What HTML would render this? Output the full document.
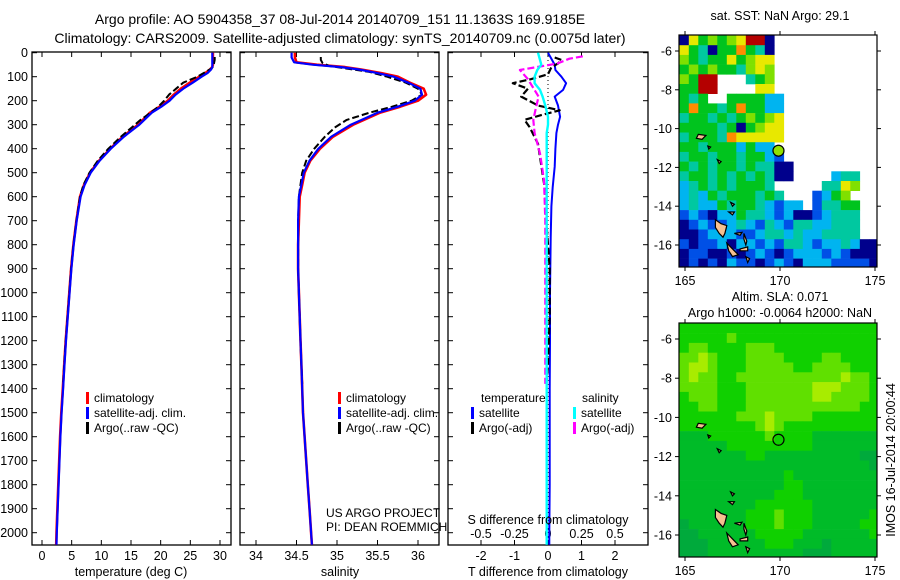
<!DOCTYPE html>
<html><head><meta charset="utf-8"><style>
html,body{margin:0;padding:0;background:#fff;}
svg{display:block;font-family:"Liberation Sans",sans-serif;}
text{fill:#000;}
</style></head><body>
<svg id="fig" width="900" height="580" viewBox="0 0 900 580" xmlns="http://www.w3.org/2000/svg">
<defs>
<clipPath id="c1"><rect x="32" y="52" width="199" height="493"/></clipPath>
<clipPath id="c2"><rect x="240" y="52" width="199" height="493"/></clipPath>
<clipPath id="c3"><rect x="448" y="52" width="200" height="493"/></clipPath>
<clipPath id="cm1"><rect x="679" y="35" width="198" height="232"/></clipPath>
<clipPath id="cm2"><rect x="679" y="323" width="198" height="234"/></clipPath>
</defs>
<text x="340" y="24" font-size="14" text-anchor="middle">Argo profile: AO 5904358_37 08-Jul-2014 20140709_151 11.1363S 169.9185E</text>
<text x="340" y="43" font-size="14" text-anchor="middle">Climatology: CARS2009. Satellite-adjusted climatology: synTS_20140709.nc (0.0075d later)</text>
<g id="p1"></g>
<g id="p2"></g>
<g id="p3"></g>
<g id="m1"></g>
<g id="m2"></g>
<text x="780" y="20" font-size="12.5" text-anchor="middle">sat. SST: NaN Argo: 29.1</text>
<text x="780" y="301" font-size="12.5" text-anchor="middle">Altim. SLA: 0.071</text>
<text x="780" y="317" font-size="12.5" text-anchor="middle">Argo h1000: -0.0064 h2000: NaN</text>
<text transform="translate(895,460) rotate(-90)" font-size="12.5" text-anchor="middle">IMOS 16-Jul-2014 20:00:44</text>
<text x="131" y="576" font-size="12.5" text-anchor="middle">temperature (deg C)</text>
<text x="340" y="576" font-size="12.5" text-anchor="middle">salinity</text>
<text x="548" y="576" font-size="12.5" text-anchor="middle">T difference from climatology</text>
<text x="548" y="524" font-size="12.5" text-anchor="middle">S difference from climatology</text>
<text x="326" y="517" font-size="12">US ARGO PROJECT</text>
<text x="326" y="531" font-size="12">PI: DEAN ROEMMICH</text>
</svg>
<script>
// ---------- profile data ----------
const depthC = [0,20,40,50,60,70,85,100,125,150,175,200,225,250,300,350,400,450,500,550,600,700,800,900,1000,1100,1200,1300,1400,1500,1600,1700,1800,1900,2000,2050];
const tempClim = [28.8,28.8,28.8,28.8,28.7,28.3,27.5,26.5,24.9,23.4,22.2,21.2,19.8,18.2,16.2,13.6,11.5,9.6,8.1,7.1,6.4,5.8,5.3,4.9,4.6,4.3,4.0,3.75,3.5,3.25,3.05,2.9,2.75,2.6,2.45,2.4];
const tempSat = [28.7,28.7,28.7,28.7,28.7,28.5,27.9,26.9,25.4,23.8,22.5,21.5,20.1,18.5,16.4,13.8,11.6,9.7,8.2,7.2,6.5,5.85,5.35,4.95,4.65,4.35,4.05,3.8,3.55,3.3,3.1,2.95,2.8,2.65,2.5,2.45];
const salClim = [34.48,34.48,34.5,34.75,35.1,35.3,35.55,35.75,35.9,36.07,36.1,36.0,35.78,35.53,35.2,34.95,34.79,34.67,34.6,34.57,34.54,34.53,34.52,34.52,34.53,34.54,34.55,34.56,34.57,34.58,34.6,34.62,34.64,34.66,34.68,34.69];
const salSat = [34.44,34.44,34.47,34.7,35.05,35.27,35.5,35.7,35.88,36.03,36.05,35.96,35.75,35.5,35.17,34.93,34.77,34.66,34.59,34.56,34.53,34.52,34.52,34.52,34.53,34.54,34.55,34.56,34.57,34.58,34.6,34.62,34.64,34.66,34.68,34.69];
const depthA = [18,30,42,55,65,80,100,125,150,175,200,225,250,280,310,350,400,450,500,550,600,700,800,900,1000,1100,1200,1300,1380];
const tempArgo = [29.1,29.1,29.0,28.9,28.6,27.6,26.2,23.8,22.6,21.4,20.6,19.6,18.3,16.6,15.2,13.3,11.2,9.4,8.0,7.0,6.4,5.8,5.3,4.9,4.6,4.3,4.0,3.75,3.55];
const salArgo = [34.8,34.8,34.82,34.9,35.1,35.4,35.62,35.85,36.0,36.05,35.92,35.68,35.4,35.12,34.98,34.85,34.72,34.62,34.57,34.55,34.53,34.52,34.52,34.52,34.53,34.54,34.55,34.56,34.57];
// ---------- difference data ----------
const depthD = [0,30,50,72,100,127,155,183,220,267,300,335,400,475,560,640,770,900,1000,1200,1400,1600,1800,2000,2050];
const dTsat = [0.0,0.12,0.2,0.22,0.4,0.54,0.45,0.2,0.3,0.36,0.3,0.25,0.22,0.2,0.14,0.1,0.08,0.07,0.06,0.06,0.05,0.05,0.05,0.04,0.04];
const dSsat = [-0.075,-0.06,-0.05,-0.08,-0.1,-0.1,-0.06,-0.04,-0.02,0.0,0.0,-0.01,-0.01,-0.01,-0.01,-0.01,-0.01,-0.01,-0.01,-0.01,-0.01,-0.01,-0.01,-0.01,-0.01];
const depthTA = [20,30,45,60,90,110,127,150,183,220,240,260,280,310,380,470,560,700,900,1100,1300,1380];
const dTargo = [0.2,0.4,0.3,0.1,0.0,-0.5,-1.05,-0.6,-0.8,-0.3,0.35,-0.2,-0.7,-0.55,-0.3,-0.2,-0.1,-0.05,0.05,0.05,0.0,-0.05];
const depthSA = [15,25,45,72,110,183,230,280,335,420,530,700,900,1100,1300,1380];
const dSargo = [0.26,0.16,0.07,-0.21,-0.15,-0.07,-0.09,-0.11,-0.1,-0.06,-0.03,-0.02,-0.02,-0.02,-0.02,-0.02];
// ---------- ticks ----------
const depthTicks = [0,100,200,300,400,500,600,700,800,900,1000,1100,1200,1300,1400,1500,1600,1700,1800,1900,2000];
const tempTicks = [0,5,10,15,20,25,30];
const salTicks = [34,34.5,35,35.5,36];
const salTickLabels = ['34','34.5','35','35.5','36'];
const dTTicks = [-2,-1,0,1,2];
const dSTicks = [-0.5,-0.25,0,0.25,0.5];
const dSTickLabels = ['-0.5','-0.25','0','0.25','0.5'];
const lonTicks = [165,170,175];
const latTicks = [-6,-8,-10,-12,-14,-16];

const NS='http://www.w3.org/2000/svg';
function mk(tag, attrs, parent){const e=document.createElementNS(NS,tag);for(const k in attrs)e.setAttribute(k,attrs[k]);parent.appendChild(e);return e;}
const yD = d => 52.7 + 0.24*d;
const xT = t => 42 + 5.933*t;
const xS = s => 256 + 81*(s-34);
const xdT = t => 548 + 33.5*t;
const xdS = s => 548 + 134*s;

function line(parent, xs, ys, fx, color, w, dash, clip, name){
  let d='';for(let i=0;i<xs.length;i++){d+=(i?'L':'M')+fx(xs[i]).toFixed(1)+','+yD(ys[i]).toFixed(1);}
  const p=mk('path',{d:d,fill:'none',stroke:color,'stroke-width':w,'clip-path':'url(#'+clip+')','stroke-linejoin':'round'},parent);
  if(dash)p.setAttribute('stroke-dasharray',dash);
  
  
}
function frame(parent,x0,x1,name){
  const r=mk('rect',{x:x0,y:52,width:x1-x0,height:493,fill:'none',stroke:'#000','stroke-width':1.3},parent);
  
  
  depthTicks.forEach(d=>{mk('line',{x1:x0,x2:x0+5,y1:yD(d),y2:yD(d),stroke:'#000'},parent);mk('line',{x1:x1-5,x2:x1,y1:yD(d),y2:yD(d),stroke:'#000'},parent);});
}
function xticks(parent,vals,labels,fx,ty,name){
  vals.forEach((v,i)=>{const x=fx(v);mk('line',{x1:x,x2:x,y1:545,y2:540,stroke:'#000'},parent);mk('line',{x1:x,x2:x,y1:52,y2:57,stroke:'#000'},parent);
    const t=mk('text',{x:x,y:ty,'font-size':12.5,'text-anchor':'middle'},parent);t.textContent=labels[i];
    
    });
}
function legendBar(parent,x,y,color,label,name){
  mk('rect',{x:x,y:y-10,width:3,height:12,fill:color},parent);
  const t=mk('text',{x:x+8,y:y,'font-size':12},parent);t.textContent=label;
  
  
}
// Panel 1
const p1=document.getElementById('p1');
frame(p1,32,231,'temperature-plot-frame');
depthTicks.forEach(d=>{const t=mk('text',{x:28,y:yD(d)+4.5,'font-size':12.5,'text-anchor':'end'},p1);t.textContent=String(d);
  
  });
xticks(p1,tempTicks,tempTicks.map(String),xT,560,'temperature-tick-label');
line(p1,tempClim,depthC,xT,'#ff0000',2.6,null,'c1','temperature-climatology-line');
line(p1,tempArgo,depthA,xT,'#000',2,'7,3','c1','temperature-argo-line');
line(p1,tempSat,depthC,xT,'#0000ff',2.2,null,'c1','temperature-satellite-line');
legendBar(p1,86,402,'#ff0000','climatology','legend-climatology');
legendBar(p1,86,417,'#0000ff','satellite-adj. clim.','legend-satellite-adj');
legendBar(p1,86,432,'#000','Argo(..raw -QC)','legend-argo');
// Panel 2
const p2=document.getElementById('p2');
frame(p2,240,439,'salinity-plot-frame');
xticks(p2,salTicks,salTickLabels,xS,560,'salinity-tick-label');
line(p2,salClim,depthC,xS,'#ff0000',2.6,null,'c2','salinity-climatology-line');
line(p2,salArgo,depthA,xS,'#000',2,'7,3','c2','salinity-argo-line');
line(p2,salSat,depthC,xS,'#0000ff',2.2,null,'c2','salinity-satellite-line');
legendBar(p2,338,402,'#ff0000','climatology','legend-climatology');
legendBar(p2,338,417,'#0000ff','satellite-adj. clim.','legend-satellite-adj');
legendBar(p2,338,432,'#000','Argo(..raw -QC)','legend-argo');
// Panel 3
const p3=document.getElementById('p3');
frame(p3,448,648,'difference-plot-frame');
dTTicks.forEach(v=>{const x=xdT(v);mk('line',{x1:x,x2:x,y1:545,y2:540,stroke:'#000'},p3);mk('line',{x1:x,x2:x,y1:52,y2:57,stroke:'#000'},p3);
  const t=mk('text',{x:x,y:560,'font-size':12.5,'text-anchor':'middle'},p3);t.textContent=String(v);
  
  });
dSTicks.forEach((v,i)=>{const t=mk('text',{x:xdS(v),y:538,'font-size':12.5,'text-anchor':'middle'},p3);t.textContent=dSTickLabels[i];
  
  });
mk('line',{x1:548,x2:548,y1:52,y2:545,stroke:'#000','stroke-width':1,'stroke-dasharray':'1,3'},p3);
line(p3,dTsat,depthD,xdT,'#0000ff',2,null,'c3','t-diff-satellite-line');
line(p3,dTargo,depthTA,xdT,'#000',2.2,'7,3','c3','t-diff-argo-line');
line(p3,dSargo,depthSA,xdS,'#ff00ff',2.2,'7,3','c3','s-diff-argo-line');
line(p3,dSsat,depthD,xdS,'#00ffff',2.4,null,'c3','s-diff-satellite-line');
const lt=mk('text',{x:481,y:402,'font-size':12},p3);lt.textContent='temperature';


const ls=mk('text',{x:582,y:402,'font-size':12},p3);ls.textContent='salinity';


legendBar(p3,471,417,'#0000ff','satellite','legend-t-satellite');
legendBar(p3,471,432,'#000','Argo(-adj)','legend-t-argo');
legendBar(p3,573,417,'#00ffff','satellite','legend-s-satellite');
legendBar(p3,573,432,'#ff00ff','Argo(-adj)','legend-s-argo');

// ---------- map data ----------
const sstRows = [
"nyGlGlyrrn","yGtnGGoGtn","lGtGGyGlyy","GlGlGGtlyl","lGrr   tGl","GGrr    yy",
"GtG  GGGGcc","GoGGtGoGGcc","tGGtGtGlGly","GGGGtGnGlyy","tGGGtoyyyyy","GGtGGGcGcc",
"tGGtGGtGGcb","GtGtGGtGttnn","tGGtGtGtGtnn    ctt","ctGtGtGGGt     ttyl","ctcGtGGGtGt   bcGl",
"ctccGtGGtcbcc bttGG","bcbnccGttcbcnnbcttt","nbcbbctcbtcbttccttt","nnbcccbbcttctcctttt",
"bnbbcnccbcbttcbcctcnn","nbbnnbnbcbnbcccbcbnnn","nbnbncbbnbcbncccbbbbn"];
const slaRows = [
"333333333333333333333","333334333333333333333","344333344433333333333","445433344443333443333",
"455433344444334444333","454433444444444445443","444433344444445554443","344433344444445544443",
"334433344444444444433","333333444544443333333","333333334543333333333","222333333433332222222",
"222223333333332222222","222222233222222222211","222222222222222222221","222222222223222222222",
"222222222223322222222","222222222233322222222","222222223333332222222","222222233343332222223",
"122222233343332222233","112222223333322222223","111222222333222122222","111222222222211122222"];
const sstColors = {n:'#00008c',b:'#0050e6',c:'#00b4f0',t:'#00c8a0',G:'#00c41e',l:'#80e000',y:'#e8e800',o:'#ff8c00',r:'#b40000'};
const slaColors = {'1':'#00aa3c','2':'#00bb28','3':'#10d000','4':'#60e000','5':'#a8ec00'};
const islands = [
[[166.6,-14.7],[166.9,-14.9],[167.2,-15.0],[167.1,-15.4],[167.0,-15.6],[166.8,-15.4],[166.6,-15.1]],
[[167.2,-15.9],[167.5,-16.2],[167.8,-16.5],[167.5,-16.6],[167.3,-16.3]],
[[167.6,-15.4],[168.0,-15.35],[167.9,-15.5]],
[[168.1,-15.4],[168.25,-15.8],[168.2,-16.0],[168.1,-15.7]],
[[167.9,-16.2],[168.3,-16.1],[168.3,-16.3],[167.9,-16.3]],
[[168.2,-16.6],[168.4,-16.7],[168.3,-16.9]],
[[167.4,-13.8],[167.6,-13.9],[167.5,-14.0]],
[[167.3,-14.3],[167.6,-14.3],[167.5,-14.45]],
[[165.7,-10.3],[166.1,-10.35],[165.9,-10.55],[165.6,-10.5]],
[[166.7,-11.6],[166.9,-11.7],[166.8,-11.8]],
[[166.2,-10.9],[166.35,-10.95],[166.25,-11.05]]];
const argoLon = 169.92, argoLat = -11.14;

function drawMap(g, rows, colors, latTop, yLat6, pxLat, boxY, boxH, clip, fillCircle, prefix){
  const lx = l => 685 + 19*(l-165);
  const ly = la => yLat6 + pxLat*(-6-la);
  const cg = mk('g',{'clip-path':'url(#'+clip+')'},g);
  rows.forEach((row,r)=>{for(let c=0;c<row.length;c++){const k=row[c];if(!colors[k])continue;
    const lon=164.7+0.5*c, la=latTop-0.5*r;
    const cell=mk('rect',{x:lx(lon).toFixed(1),y:ly(la).toFixed(1),width:9.8,height:(pxLat*0.5+0.3).toFixed(1),fill:colors[k]},cg);
    
    }});
  islands.forEach(poly=>{const pts=poly.map(p=>lx(p[0]).toFixed(1)+','+ly(p[1]).toFixed(1)).join(' ');
    const isl=mk('polygon',{points:pts,fill:'#f5c090',stroke:'#000','stroke-width':1.2},cg);
    
    });
  const circ=mk('circle',{cx:lx(argoLon),cy:ly(argoLat),r:5.5,fill:fillCircle,stroke:'#000','stroke-width':1.2},g);
  
  
  const fr=mk('rect',{x:679,y:boxY,width:198,height:boxH,fill:'none',stroke:'#000','stroke-width':1.2},g);
  
  
  lonTicks.forEach(l=>{const x=lx(l);mk('line',{x1:x,x2:x,y1:boxY,y2:boxY-4,stroke:'#000'},g);mk('line',{x1:x,x2:x,y1:boxY+boxH,y2:boxY+boxH+4,stroke:'#000'},g);
    const t=mk('text',{x:x,y:boxY+boxH+18,'font-size':12.5,'text-anchor':'middle'},g);t.textContent=String(l);
    
    });
  latTicks.forEach(la=>{const y=ly(la);mk('line',{x1:679,x2:675,y1:y,y2:y,stroke:'#000'},g);mk('line',{x1:877,x2:881,y1:y,y2:y,stroke:'#000'},g);
    const t=mk('text',{x:672,y:y+4.5,'font-size':12.5,'text-anchor':'end'},g);t.textContent=String(la);
    
    });
}
drawMap(document.getElementById('m1'),sstRows,sstColors,-5.2,51,19.4,35,232,'cm1','#90e000','sst-map');
drawMap(document.getElementById('m2'),slaRows,slaColors,-5.2,339,19.6,323,234,'cm2','none','sla-map');
</script>
</body></html>
